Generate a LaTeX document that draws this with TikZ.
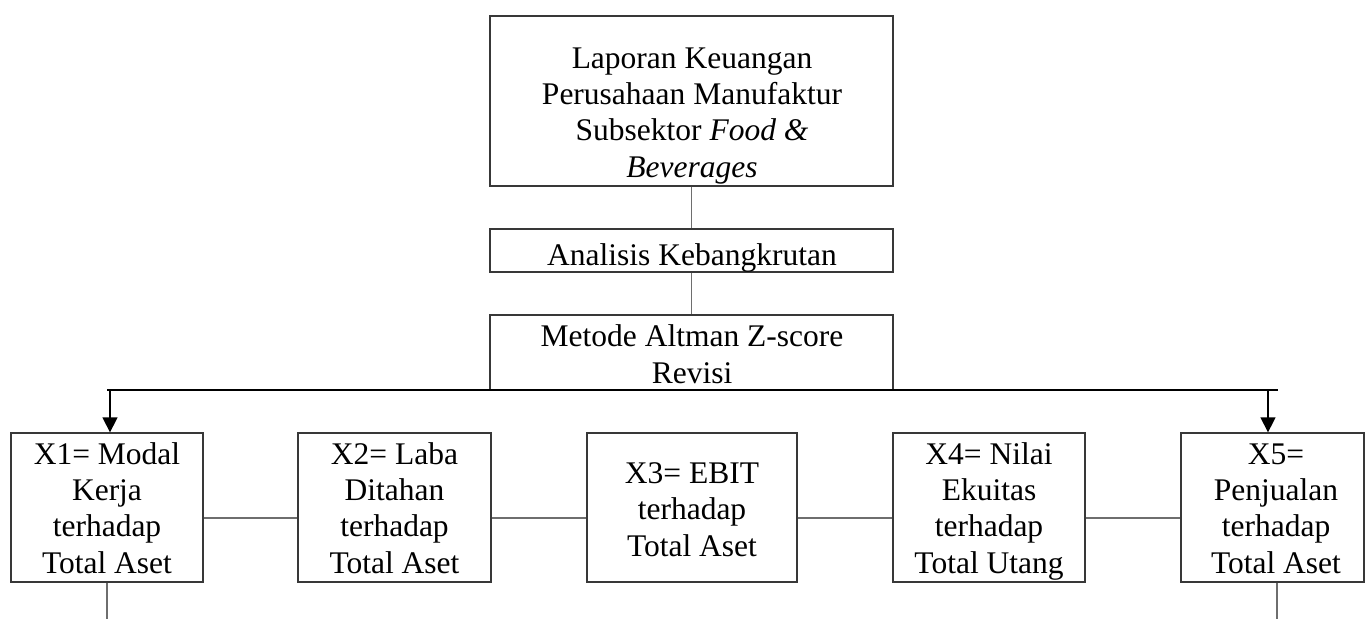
\documentclass[tikz,border=0pt]{standalone}
\usepackage{fontspec}
\setmainfont{Liberation Serif}
\usetikzlibrary{arrows.meta}
\definecolor{boxc}{HTML}{383838}
\definecolor{linec}{HTML}{6E6E6E}
\begin{document}
\begin{tikzpicture}[x=1pt,y=-1pt,
  box/.style={draw=boxc,line width=1.3pt,rectangle,inner sep=0pt},
  txt/.style={font=\fontsize{31.5}{36.3}\selectfont,align=center,inner sep=0pt,anchor=north},
  conn/.style={draw=linec,line width=1.3pt},
  hline/.style={draw=black,line width=1.3pt},
  arr/.style={draw=black,line width=1.3pt,-{Triangle[length=15pt,width=15pt]}}]
\useasboundingbox (0,0) rectangle (1365,619);
% boxes
\node[box,minimum width=403pt,minimum height=170pt] (lap) at (691.5,101) {};
\node[box,minimum width=403pt,minimum height=43pt] (ana) at (691.5,250.5) {};
\node[box,minimum width=403pt,minimum height=75pt] (met) at (691.5,352.5) {};
\node[box,minimum width=192pt,minimum height=149pt] (x1) at (107,507.5) {};
\node[box,minimum width=193pt,minimum height=149pt] (x2) at (394.5,507.5) {};
\node[box,minimum width=210pt,minimum height=149pt] (x3) at (692,507.5) {};
\node[box,minimum width=192pt,minimum height=149pt] (x4) at (989,507.5) {};
\node[box,minimum width=183pt,minimum height=149pt] (x5) at (1272.5,507.5) {};
% texts
\node[txt] (laptxt) at (692,42.6) {\strut Laporan Keuangan\\Perusahaan Manufaktur\\Subsektor \textit{Food \&}\\\textit{Beverages}};
\node[txt] (anatxt) at (692,240.3) {\strut Analisis Kebangkrutan};
\node[txt] (mettxt) at (692,321.3) {\strut Metode Altman Z-score\\Revisi};
\node[txt] (x1txt) at (107,438.6) {\strut X1= Modal\\Kerja\\terhadap\\Total Aset};
\node[txt] (x2txt) at (394.5,438.6) {\strut X2= Laba\\Ditahan\\terhadap\\Total Aset};
\node[txt] (x3txt) at (692,457.9) {\strut X3= EBIT\\terhadap\\Total Aset};
\node[txt] (x4txt) at (989,438.6) {\strut X4= Nilai\\Ekuitas\\terhadap\\Total Utang};
\node[txt] (x5txt) at (1276,438.6) {\strut X5=\\Penjualan\\terhadap\\Total Aset};
% vertical connectors
\draw[conn] (lap.south) -- (ana.north);
\draw[conn] (ana.south) -- (met.north);
% distribution line and arrows
\coordinate (hl) at (107,390);
\coordinate (hr) at (1278,390);
\draw[hline] (hl) -- (hr);
\coordinate (a1) at (110,390);
\coordinate (a5) at (1268,390);
\draw[arr] (a1) -- (a1 |- x1.north);
\draw[arr] (a5) -- (a5 |- x5.north);
% horizontal connectors between boxes
\draw[conn] ([yshift=-10.5pt]x1.east) -- ([yshift=-10.5pt]x2.west);
\draw[conn] ([yshift=-10.5pt]x2.east) -- ([yshift=-10.5pt]x3.west);
\draw[conn] ([yshift=-10.5pt]x3.east) -- ([yshift=-10.5pt]x4.west);
\draw[conn] ([yshift=-10.5pt]x4.east) -- ([yshift=-10.5pt]x5.west);
% bottom lines
\coordinate (b1) at (107,619);
\coordinate (b5) at (1277,619);
\draw[conn] (x1.south) -- (b1);
\draw[conn] (b5 |- x5.south) -- (b5);
\end{tikzpicture}
\end{document}
